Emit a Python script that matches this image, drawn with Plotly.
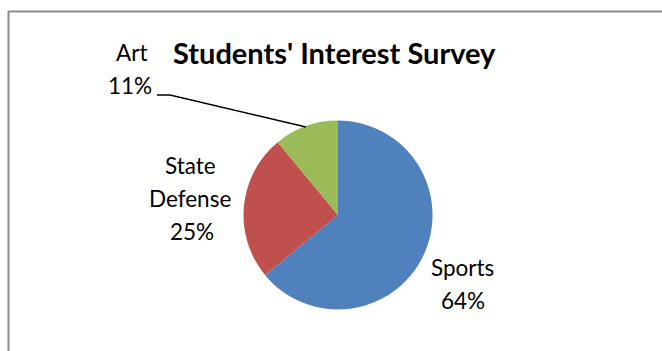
import plotly.graph_objects as go

labels = ["Sports", "State Defense", "Art"]
values = [64, 25, 11]
colors = ["#4F81BD", "#C0504D", "#9BBB59"]
title = "Students' Interest Survey"

W, H = 662, 351
FONT = "Lato"

def px(x):
    return x / W

def py(y):
    return 1 - y / H

fig = go.Figure()
fig.add_trace(go.Pie(
    labels=labels, values=values, sort=False, direction="clockwise", rotation=0,
    marker=dict(colors=colors, line=dict(width=0)),
    textinfo="none", hoverinfo="label+percent", showlegend=False,
    domain=dict(x=[px(243.5), px(432.5)], y=[py(309.5), py(120.5)]),
))

# data labels (name + percent) as text lines
label_pos = {
    "Sports": [(462, 267), (463, 300)],
    "State Defense": [(190, 166), (190, 198), (192, 232)],
    "Art": [(131, 52), (130, 86)],
}
total = sum(values)
annotations = []
for lab, val in zip(labels, values):
    lines = lab.split(" ") + [f"{round(100 * val / total)}%"]
    for (x, y), t in zip(label_pos[lab], lines):
        annotations.append(dict(x=px(x), y=py(y), xref="paper", yref="paper",
                                text=t, showarrow=False, xanchor="center", yanchor="middle",
                                font=dict(family=FONT, size=22.5, color="#000000")))

annotations.append(dict(x=px(335), y=py(52), xref="paper", yref="paper",
                        text=f"<b>{title}</b>", showarrow=False, xanchor="center", yanchor="middle",
                        font=dict(family=FONT, size=29, color="#000000")))

shapes = [
    # chart border
    dict(type="rect", xref="paper", yref="paper", x0=px(8.5), x1=1.2, y0=-0.2, y1=py(11.5),
         line=dict(color="#8C8C8C", width=2), fillcolor="rgba(0,0,0,0)", layer="below"),
    # leader line for Art
    dict(type="path", xref="paper", yref="paper",
         path=f"M {px(157)} {py(95)} L {px(170)} {py(95)} L {px(306)} {py(127)}",
         line=dict(color="#000000", width=1.5)),
]

fig.update_layout(width=W, height=H, margin=dict(l=0, r=0, t=0, b=0),
                  paper_bgcolor="white", plot_bgcolor="white",
                  annotations=annotations, shapes=shapes)
fig.write_html("out.html")
